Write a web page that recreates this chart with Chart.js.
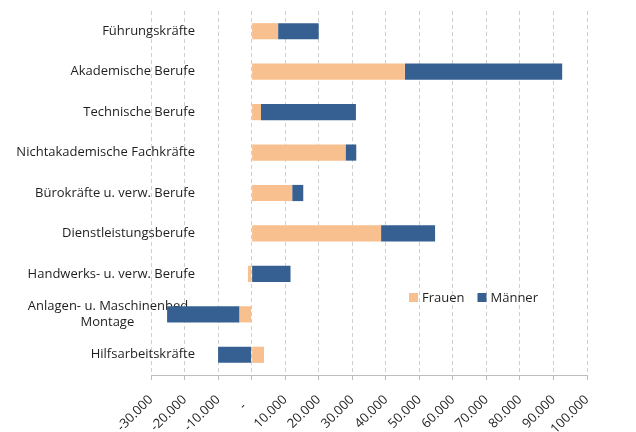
<!DOCTYPE html>
<html>
<head>
<meta charset="utf-8">
<script src="https://cdn.jsdelivr.net/npm/chart.js@4/dist/chart.umd.min.js"></script>
<style>
  html, body { margin: 0; padding: 0; background: #fff; }
  #wrap { width: 636px; height: 432px; }
</style>
</head>
<body>
<div id="wrap"><canvas id="myChart" width="636" height="432"></canvas></div>
<script>
var categories = [
    "Führungskräfte",
    "Akademische Berufe",
    "Technische Berufe",
    "Nichtakademische Fachkräfte",
    "Bürokräfte u. verw. Berufe",
    "Dienstleistungsberufe",
    "Handwerks- u. verw. Berufe",
    ["Anlagen- u. Maschinenbed.,", "Montage                  "],
    "Hilfsarbeitskräfte"
];
var frauen = [7900, 45700, 2800, 28000, 12100, 38600, -1100, -3600, 3700];
var maenner = [12100, 46900, 28300, 3200, 3300, 16100, 11600, -21600, -10000];
var xMin = -30000;
var xMax = 100000;
var xStep = 10000;

var font = "'Open Sans', sans-serif";
var textColor = "#1e1e1e";

function fmt(v) {
    if (v === 0) return "-   ";
    var s = String(Math.abs(v)).replace(/\B(?=(\d{3})+(?!\d))/g, ".");
    return (v < 0 ? "-" : "") + s;
}

// legend drawn inside the plot, like the original
var innerLegend = {
    id: "innerLegend",
    afterDraw: function (chart) {
        var ctx = chart.ctx;
        var x = 409, y = 298;
        ctx.save();
        ctx.font = "13px " + font;
        ctx.textBaseline = "middle";
        chart.data.datasets.forEach(function (ds) {
            ctx.fillStyle = ds.backgroundColor;
            ctx.fillRect(x, y - 5, 9, 9);
            ctx.fillStyle = textColor;
            ctx.fillText(ds.label, x + 13, y);
            x += 13 + ctx.measureText(ds.label).width + 13;
        });
        ctx.restore();
    }
};

var ctx = document.getElementById("myChart").getContext("2d");
var barChart = new Chart(ctx, {
    type: "bar",
    data: {
        labels: categories,
        datasets: [
            { label: "Frauen", data: frauen, backgroundColor: "#F9C08F" },
            { label: "Männer", data: maenner, backgroundColor: "#366092" }
        ]
    },
    options: {
        indexAxis: "y",
        responsive: false,
        animation: false,
        layout: { padding: { left: 4, right: 49, top: 11, bottom: 0 } },
        categoryPercentage: 1,
        barPercentage: 0.4,
        plugins: {
            legend: { display: false },
            tooltip: { enabled: false }
        },
        scales: {
            x: {
                stacked: true,
                min: xMin,
                max: xMax,
                ticks: {
                    stepSize: xStep,
                    maxRotation: 45,
                    minRotation: 45,
                    color: textColor,
                    font: { family: font, size: 13 },
                    padding: 12,
                    callback: function (v) { return fmt(v); }
                },
                grid: {
                    color: "#cfcfcf",
                    tickColor: "#bdbdbd",
                    tickLength: 5,
                    tickBorderDash: []
                },
                border: { display: true, color: "#bdbdbd", dash: [4, 3] },
                afterFit: function (s) { s.height = 57; }
            },
            y: {
                stacked: true,
                z: 1,
                grid: { display: false, drawTicks: false },
                border: { display: false },
                ticks: {
                    color: textColor,
                    font: { family: font, size: 13 },
                    padding: -44
                },
                afterFit: function (s) {
                    s.width = 147;
                    // labels reach into the plot area, so don't clip them to the axis box
                    s._computeLabelArea = function () {};
                }
            }
        }
    },
    plugins: [innerLegend]
});
</script>
</body>
</html>
